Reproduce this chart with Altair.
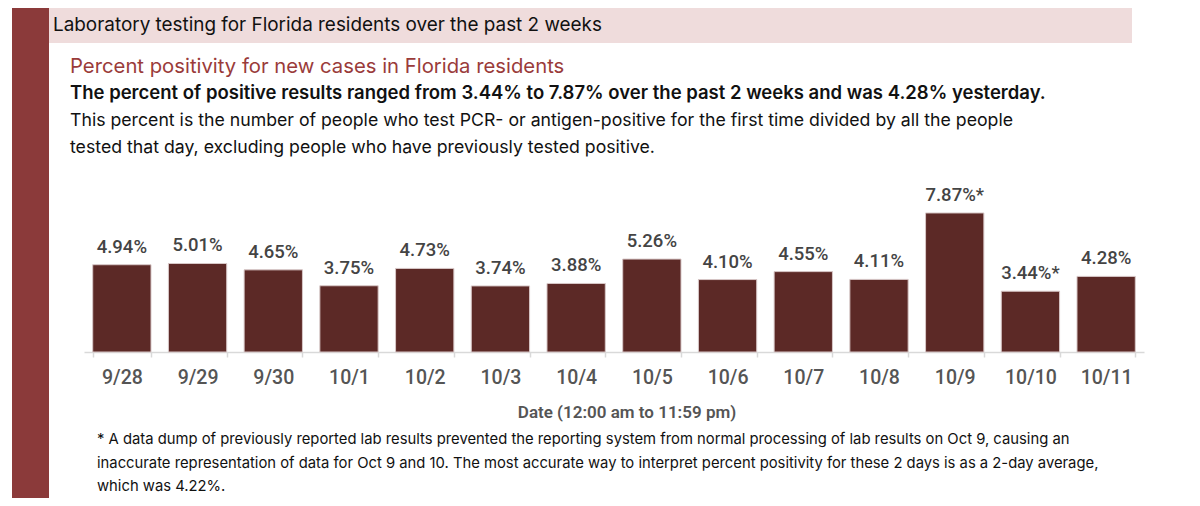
import altair as alt
import pandas as pd

# ---- data ----
dates = ["9/28", "9/29", "9/30", "10/1", "10/2", "10/3", "10/4",
         "10/5", "10/6", "10/7", "10/8", "10/9", "10/10", "10/11"]
values = [4.94, 5.01, 4.65, 3.75, 4.73, 3.74, 3.88,
          5.26, 4.10, 4.55, 4.11, 7.87, 3.44, 4.28]
flags = ["", "", "", "", "", "", "", "", "", "", "", "*", "*", ""]

header_text = "Laboratory testing for Florida residents over the past 2 weeks"
subtitle_text = "Percent positivity for new cases in Florida residents"
summary_text = ("The percent of positive results ranged from 3.44% to 7.87% over the past 2 weeks "
                "and was 4.28% yesterday.")
desc_lines = [
    "This percent is the number of people who test PCR- or antigen-positive for the first time divided by all the people",
    "tested that day, excluding people who have previously tested positive.",
]
axis_title_text = "Date (12:00 am to 11:59 pm)"
footnote_lines = [
    "* A data dump of previously reported lab results prevented the reporting system from normal processing of lab results on Oct 9, causing an",
    "inaccurate representation of data for Oct 9 and 10. The most accurate way to interpret percent positivity for these 2 days is as a 2-day average,",
    "which was 4.22%.",
]

df = pd.DataFrame({
    "date": dates,
    "value": values,
    "label": [f"{v:.2f}%{f}" for v, f in zip(values, flags)],
})

W, H = 1060, 159
PAD = {"left": 76, "top": 185, "right": 30, "bottom": 146}

BAR_COLOR = "#5C2926"
DARK_RED = "#8B3A3A"
PINK = "#EFDCDC"
GREY_TXT = "#444444"
SANS = "Inter"

x_enc = alt.X("date:N", sort=dates, title=None,
              scale=alt.Scale(paddingInner=0.23, paddingOuter=0.115),
              axis=alt.Axis(labelAngle=0, tickBand="extent", tickSize=5,
                            tickColor="#D9D9D9", domainColor="#D9D9D9", domainWidth=1.5,
                            tickWidth=1.5,
                            labelFont="Roboto", labelFontSize=19.5, labelFontWeight=500,
                            labelColor="#555555", labelBaseline="middle", labelPadding=20))
y_enc = alt.Y("value:Q", scale=alt.Scale(domain=[0, 9]), axis=None)

base = alt.Chart(df)
bars = base.mark_bar(color=BAR_COLOR, stroke="#D8C8C8", strokeWidth=1).encode(x=x_enc, y=y_enc)
vals = base.mark_text(dy=-18, baseline="middle", font="Roboto", fontSize=18.5,
                      fontWeight=500, color=GREY_TXT).encode(x=x_enc, y=y_enc, text="label:N")

one = pd.DataFrame({"k": [0]})
red_bar = alt.Chart(one).mark_rect(color=DARK_RED).encode(
    x=alt.value(-72), x2=alt.value(-35), y=alt.value(-185), y2=alt.value(H + PAD["bottom"]))
pink_band = alt.Chart(one).mark_rect(color=PINK).encode(
    x=alt.value(-35), x2=alt.value(1048), y=alt.value(-185), y2=alt.value(-150))


def txt(s, x, y, size, color="#111111", weight="normal", font=SANS):
    return alt.Chart(pd.DataFrame({"t": [s]})).mark_text(
        align="left", baseline="middle", font=font, fontSize=size,
        fontWeight=weight, color=color).encode(
        x=alt.value(x), y=alt.value(y), text="t:N")


layers = [red_bar, pink_band, bars, vals,
          txt(header_text, -31, -168.5, 18.9),
          txt(subtitle_text, -14, -126.5, 20.3, color="#9A3B3A"),
          txt(summary_text, -14, -100, 18.5, weight=600),
          txt(desc_lines[0], -14, -72.5, 17.7),
          txt(desc_lines[1], -14, -45, 17.7)]
for i, line in enumerate(footnote_lines):
    layers.append(txt(line, 13, 247 + i * 23.5, 14.8))

axis_title = alt.Chart(pd.DataFrame({"t": [axis_title_text]})).mark_text(
    align="center", baseline="middle", font="Roboto", fontSize=17, fontWeight=600,
    color="#555555").encode(x=alt.value(543), y=alt.value(219.5), text="t:N")
layers.append(axis_title)

chart = alt.layer(*layers).properties(
    width=W, height=H, padding=PAD,
    autosize=alt.AutoSizeParams(type="none"),
    background="white",
).configure_view(stroke=None)

chart.save("out.html", embed_options={"renderer": "svg", "actions": False})
